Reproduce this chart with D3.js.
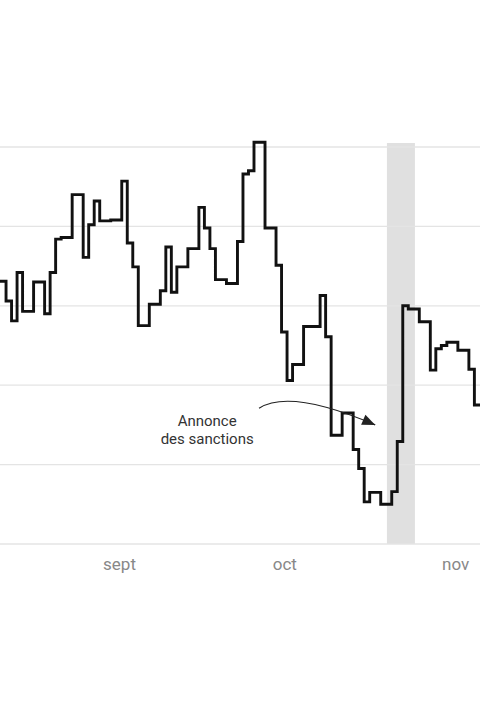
<!DOCTYPE html>
<html>
<head>
<meta charset="utf-8">
<script src="https://cdn.jsdelivr.net/npm/d3@7"></script>
<style>
  html, body { margin: 0; padding: 0; background: #fff; }
  svg { display: block; font-family: Roboto, "Noto Sans", sans-serif; }
</style>
</head>
<body>
<svg id="chart" width="480" height="720"></svg>
<script>
// ---- data ----
const startDate = "2019-08-10";   // first daily observation
const values = [
  33.1, 33.1, 30.6, 28.1, 34.2, 29.3, 29.3, 33.0, 33.0, 29.0,
  34.2, 38.4, 38.6, 38.6, 44.0, 44.0, 36.1, 40.2, 43.2, 40.7,
  40.7, 40.8, 40.8, 45.7, 37.9, 34.9, 27.5, 27.5, 30.2, 30.2,
  31.9, 37.4, 31.7, 34.9, 34.9, 37.2, 37.2, 42.4, 39.8, 37.2,
  33.3, 33.3, 32.8, 32.8, 38.1, 46.6, 47.0, 50.6, 50.6, 39.8,
  39.8, 35.1, 26.7, 20.6, 22.6, 22.6, 27.4, 27.4, 27.4, 31.3,
  26.1, 13.7, 13.7, 16.5, 16.5, 11.9, 9.5, 5.3, 6.5, 6.5,
  5.0, 5.0, 6.6, 12.9, 30.0, 29.6, 29.6, 28.0, 28.0, 21.9,
  24.6, 25.0, 25.4, 25.4, 24.4, 24.4, 22.0, 17.5, 17.5, 17.5
];
const tickDates = ["2019-09-01", "2019-10-01", "2019-11-01"];
const tickLabels = ["sept", "oct", "nov"];
const gridValues = [0, 10, 20, 30, 40, 50];
const bandPeriod = ["2019-10-19T15:00Z", "2019-10-24T17:00Z"];
const noteLines = ["Annonce", "des sanctions"];
const noteTextAt = ["2019-09-17T00:00Z", 14.9];
const noteArrowFrom = ["2019-09-26T10:00Z", 17.1];
const noteArrowVia = ["2019-10-02T01:00Z", 19.6];
const noteArrowTo = ["2019-10-17T12:00Z", 15.0];

// ---- build ----
const parse = s => new Date(s.length === 10 ? s + "T00:00:00Z" : s);
const day0 = parse(startDate);
const series = values.map((v, i) => ({ date: d3.utcDay.offset(day0, i), value: v }));

const svg = d3.select("#chart");
const x = d3.scaleUtc()
  .domain([parse("2019-09-01"), parse("2019-11-01")])
  .range([119, 119 + 61 * 5.51]);
const y = d3.scaleLinear().domain([0, 50]).range([544, 147]);

// band
svg.append("rect")
  .attr("x", x(parse(bandPeriod[0])))
  .attr("y", y(50) - 4)
  .attr("width", x(parse(bandPeriod[1])) - x(parse(bandPeriod[0])))
  .attr("height", y(0) - y(50) + 4)
  .attr("fill", "#e0e0e0");

// gridlines
svg.append("g").selectAll("line").data(gridValues).join("line")
  .attr("x1", 0).attr("x2", 480)
  .attr("y1", d => y(d)).attr("y2", d => y(d))
  .attr("stroke", "#e4e4e4").attr("stroke-width", 1.3);

// x axis
const xAxis = d3.axisBottom(x)
  .tickValues(tickDates.map(parse))
  .tickFormat((d, i) => tickLabels[i])
  .tickSize(0).tickPadding(14);
const gx = svg.append("g").attr("transform", `translate(0,${y(0)})`).call(xAxis);
gx.select(".domain").remove();
gx.selectAll("text").attr("fill", "#888").attr("font-size", 17)
  .attr("font-family", "Roboto, sans-serif");

// line
const line = d3.line().curve(d3.curveStep)
  .x(d => x(d.date)).y(d => y(d.value));
svg.append("path").datum(series)
  .attr("d", line)
  .attr("fill", "none").attr("stroke", "#111").attr("stroke-width", 2.9)
  .attr("stroke-linejoin", "miter");

// annotation
const pt = p => [x(parse(p[0])), y(p[1])];
const a0 = pt(noteArrowFrom), aC = pt(noteArrowVia), a1 = pt(noteArrowTo);
const pathA = d3.path();
pathA.moveTo(a0[0], a0[1]);
pathA.quadraticCurveTo(aC[0], aC[1], a1[0], a1[1]);
svg.append("path").attr("d", pathA.toString())
  .attr("fill", "none").attr("stroke", "#222").attr("stroke-width", 1.2);
const ang = Math.atan2(a1[1] - aC[1], a1[0] - aC[0]);
const L = 13, W = 5.5;
const bx = a1[0] - L * Math.cos(ang), by = a1[1] - L * Math.sin(ang);
const px = -Math.sin(ang) * W, py = Math.cos(ang) * W;
svg.append("path")
  .attr("d", `M${a1[0]},${a1[1]}L${bx + px},${by + py}L${bx - px},${by - py}Z`)
  .attr("fill", "#222");

const t = pt(noteTextAt);
svg.append("text")
  .attr("x", t[0]).attr("y", t[1])
  .attr("text-anchor", "middle").attr("fill", "#333").attr("font-size", 15)
  .selectAll("tspan").data(noteLines).join("tspan")
  .attr("x", t[0]).attr("dy", (d, i) => i === 0 ? 0 : 18)
  .text(d => d);
</script>
</body>
</html>
